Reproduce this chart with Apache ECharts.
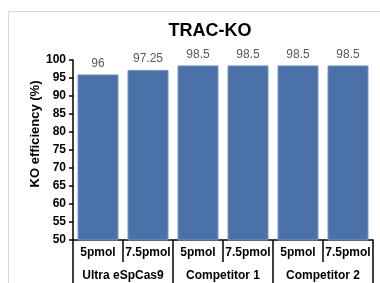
<!DOCTYPE html>
<html>
<head>
<meta charset="utf-8">
<script src="https://cdn.jsdelivr.net/npm/echarts@6/dist/echarts.min.js"></script>
<style>
  html, body { margin: 0; padding: 0; background: #fff; }
  #chart { width: 380px; height: 283px; }
</style>
</head>
<body>
<div id="chart"></div>
<script>
// 数据
const doses = ['5pmol', '7.5pmol', '5pmol', '7.5pmol', '5pmol', '7.5pmol']
const groups = ['Ultra eSpCas9', 'Competitor 1', 'Competitor 2']
const efficiency = [96, 97.25, 98.5, 98.5, 98.5, 98.5]
const yTicks = [50, 100, 5] // min, max, interval

const chart = echarts.init(document.getElementById('chart'))

const labelFont = {
  color: '#000',
  fontFamily: 'Liberation Sans, Arial',
  fontWeight: 'bold',
  fontSize: 12
}

chart.setOption({
  animation: false,
  graphic: [
    {
      type: 'rect',
      shape: { x: 8.5, y: 11.5, width: 400, height: 300 },
      style: { fill: 'none', stroke: '#d9d9d9', lineWidth: 1 },
      silent: true
    },
    // 标题
    {
      type: 'text',
      x: 210,
      y: 31,
      style: {
        text: 'TRAC-KO',
        fill: '#000',
        font: 'bold 18px "Liberation Sans", Arial',
        align: 'center',
        verticalAlign: 'middle'
      }
    },
    // y轴名称
    {
      type: 'text',
      x: 35,
      y: 134,
      rotation: Math.PI / 2,
      style: {
        text: 'KO efficiency (%)',
        fill: '#000',
        font: 'bold 13px "Liberation Sans", Arial',
        align: 'center',
        verticalAlign: 'middle'
      }
    }
  ],
  grid: {
    left: 73,
    right: 7,
    top: 60,
    bottom: 43
  },
  xAxis: [
    {
      type: 'category',
      data: doses,
      position: 'bottom',
      axisLine: { lineStyle: { color: '#000', width: 1.5 } },
      axisTick: { show: true, length: 22, alignWithLabel: false, lineStyle: { color: '#000', width: 1.5 } },
      axisLabel: Object.assign({ margin: 7, interval: 0 }, labelFont)
    },
    {
      type: 'category',
      data: groups,
      position: 'bottom',
      offset: 22,
      axisLine: { show: false },
      axisTick: { show: true, length: 22, alignWithLabel: false, lineStyle: { color: '#000', width: 1.5 } },
      axisLabel: Object.assign({ margin: 8, interval: 0 }, labelFont)
    }
  ],
  yAxis: {
    type: 'value',
    min: yTicks[0],
    max: yTicks[1],
    interval: yTicks[2],
    splitLine: { show: false },
    axisLine: { show: true, lineStyle: { color: '#000', width: 1.5 } },
    axisTick: { show: true, length: 4, lineStyle: { color: '#000', width: 1.5 } },
    axisLabel: Object.assign({ margin: 7 }, labelFont)
  },
  series: [
    {
      type: 'bar',
      xAxisIndex: 0,
      data: efficiency,
      barCategoryGap: '18%',
      itemStyle: {
        color: '#4a72a8',
        borderColor: '#7896c0',
        borderWidth: 1
      },
      label: {
        show: true,
        position: 'top',
        distance: 5,
        color: '#595959',
        fontFamily: 'Liberation Sans, Arial',
        fontSize: 12
      }
    }
  ]
})
</script>
</body>
</html>
